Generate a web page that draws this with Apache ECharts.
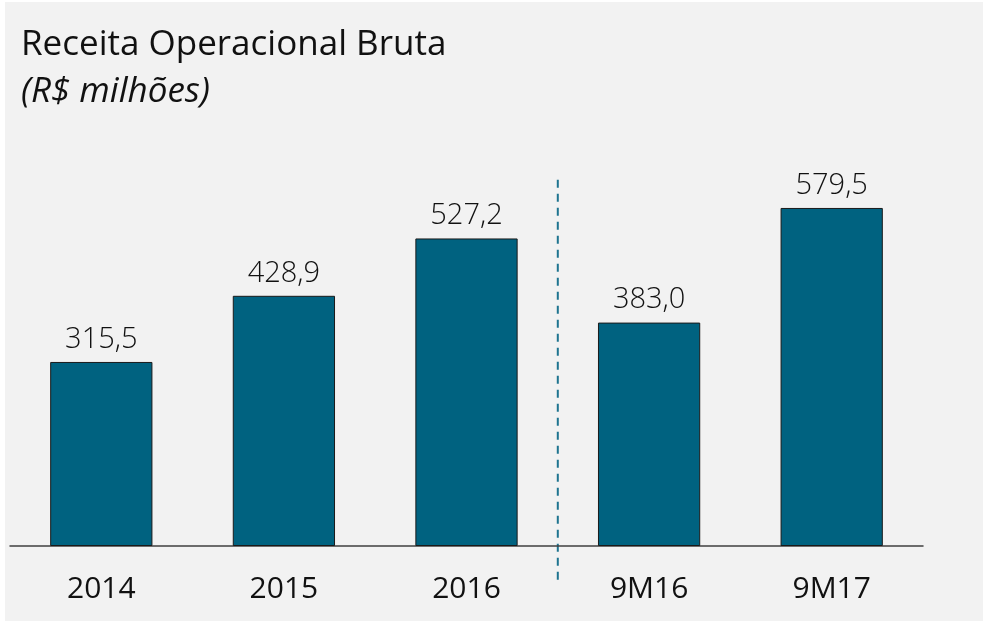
<!DOCTYPE html>
<html><head><meta charset="utf-8">
<script src="https://cdn.jsdelivr.net/npm/echarts@6/dist/echarts.min.js"></script>
<style>html,body{margin:0;padding:0;background:#fff}#c{position:absolute;left:5px;top:2px;width:978px;height:619px;background:#f2f2f2}</style>
</head><body><div id="c"></div>
<script>
const categories = ['2014','2015','2016','9M16','9M17'];
const values = [315.5, 428.9, 527.2, 383.0, 579.5];
const valueLabels = ['315,5','428,9','527,2','383,0','579,5'];
const titleText = 'Receita Operacional Bruta';
const subtitleText = '(R$ milhões)';

const chart = echarts.init(document.getElementById('c'));
const font = "'Open Sans', 'Noto Sans', sans-serif";
chart.setOption({
  backgroundColor: '#f2f2f2',
  animation: false,
  title: [
    {text: titleText, left: 11, top: 21, textStyle:{fontFamily:font, fontSize:35, fontWeight:'normal', color:'#111'}},
    {text: subtitleText, left: 11, top: 68, textStyle:{fontFamily:font, fontSize:35, fontStyle:'italic', fontWeight:'normal', color:'#111'}}
  ],
  grid: {left: 5, right: 60, top: 194, bottom: 75, containLabel:false},
  xAxis: {
    type:'category', data: categories,
    axisLine:{lineStyle:{color:'#404040', width:1.5}},
    axisTick:{show:false},
    axisLabel:{fontFamily:font, fontSize:30, color:'#111', margin:28}
  },
  yAxis: {type:'value', min:0, max:600, show:false, splitLine:{show:false}},
  series: [{
    type:'bar', data: values, barWidth:'56%',
    itemStyle:{color:'#006280', borderColor:'#1a1a1a', borderWidth:1},
    label:{show:true, position:'top', distance:8, fontFamily:font, fontSize:29, fontWeight:300, color:'#111',
      formatter: p => valueLabels[p.dataIndex]}
  }]
});
const x1 = chart.convertToPixel({xAxisIndex:0}, 2);
const x2 = chart.convertToPixel({xAxisIndex:0}, 3);
const xm = (x1 + x2) / 2;
const yTop = chart.convertToPixel({yAxisIndex:0}, 628);
const yBot = chart.convertToPixel({yAxisIndex:0}, -58);
chart.setOption({graphic:[{type:'line', shape:{x1:xm, y1:yTop, x2:xm, y2:yBot},
  style:{stroke:'#1e7490', lineWidth:2, lineDash:[8,6]}}]});
</script></body></html>
